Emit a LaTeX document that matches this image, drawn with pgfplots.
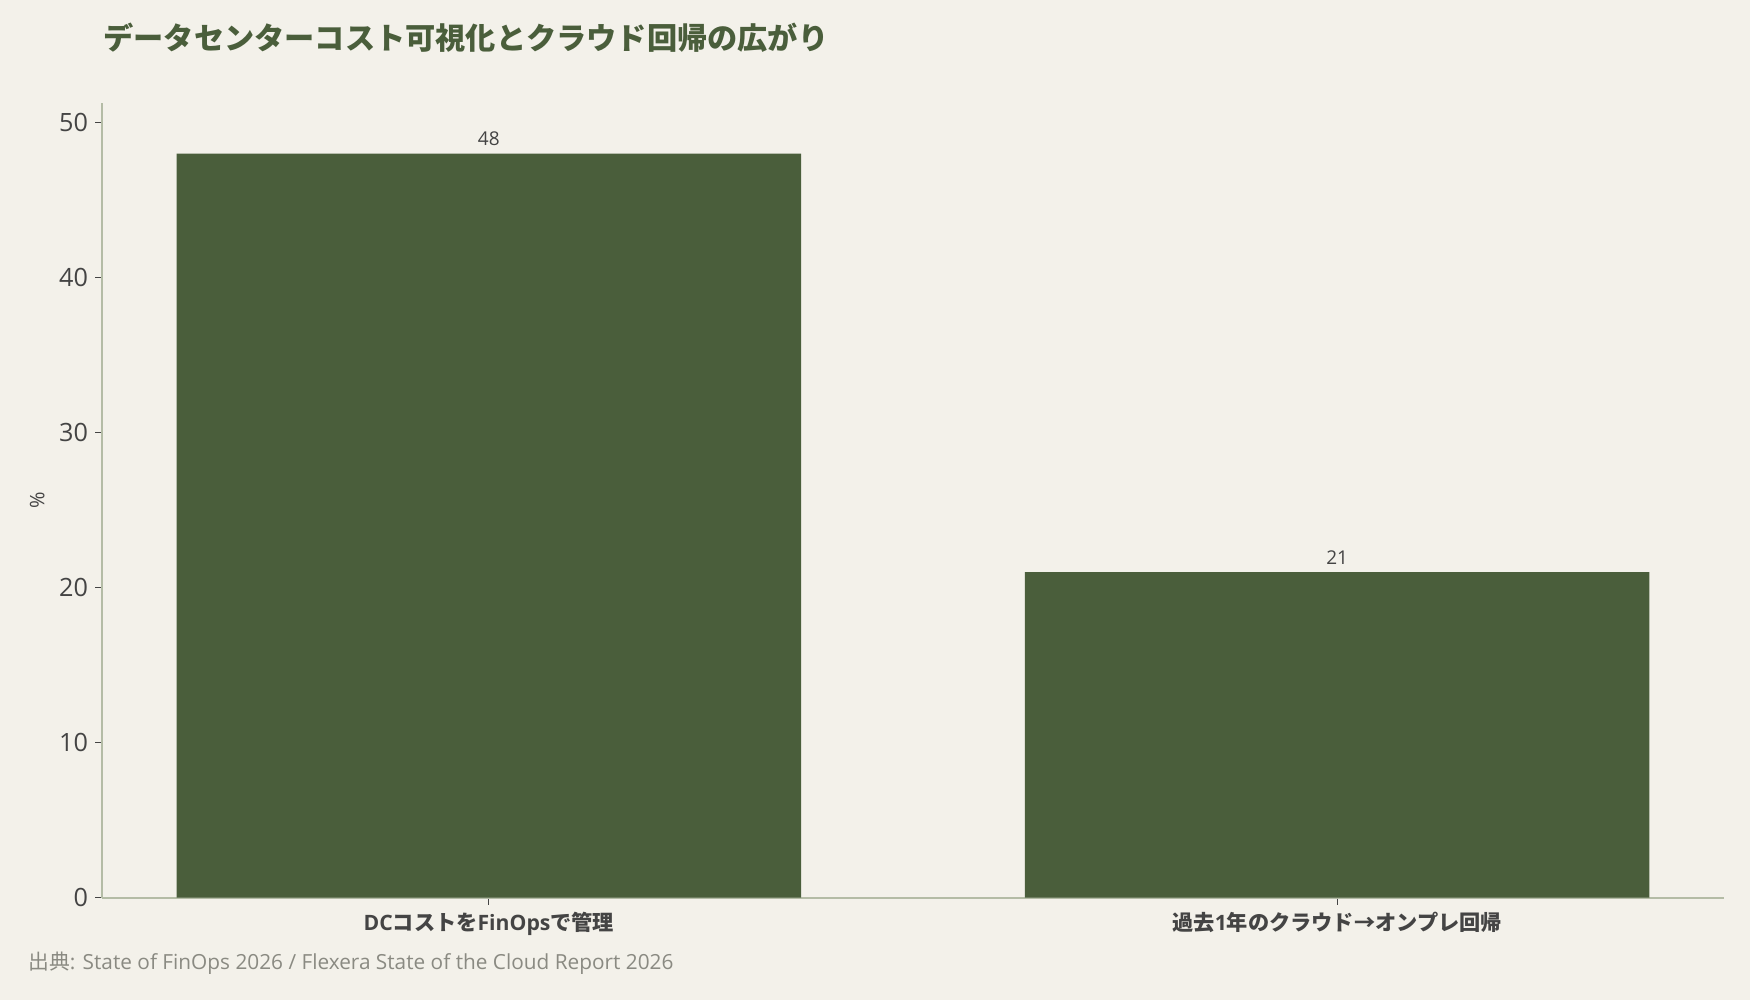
\documentclass[border=0pt]{standalone}
\usepackage{pgfplots}
\pgfplotsset{compat=1.18}
\usepackage{fontspec}
\setmainfont{Noto Sans CJK JP}
\newfontfamily\lat{Open Sans}
\definecolor{bg}{HTML}{F3F1EA}
\definecolor{barc}{HTML}{4A5E3B}
\definecolor{axc}{HTML}{B4BCA6}
\definecolor{txt}{HTML}{444444}
\definecolor{src}{HTML}{8A8A82}
\begin{document}
\begin{tikzpicture}
\fill[bg] (0,0) rectangle (875pt,500pt);
\useasboundingbox (0,0) rectangle (875pt,500pt);
\begin{axis}[
  at={(51pt,51.15pt)}, anchor=south west,
  scale only axis, width=811pt, height=397.4pt,
  xmin=-0.456, xmax=1.456, ymin=0, ymax=51.27,
  axis x line=bottom, axis y line=left,
  axis line style={-, draw=axc, line width=1pt},
  ytick={0,10,20,30,40,50},
  xtick={0,1},
  xticklabels={{\lat DC}コストを{\lat FinOps}で管理, 過去{\lat 1}年のクラウド→オンプレ回帰},
  tick style={draw=txt, line width=0.6pt},
  major tick length=3.5pt, tick align=outside,
  /pgf/number format/assume math mode=true,
  yticklabel style={font=\lat\fontsize{12.6}{14}\selectfont, text=txt},
  xticklabel style={font=\bfseries\fontsize{10.6}{13}\selectfont, text=txt},
  ylabel={\lat\%},
  ylabel style={at={(axis description cs:-0.04,0.5)}, anchor=center, font=\fontsize{10}{12}\selectfont, text=txt},
  ybar, bar width=0.736,
  nodes near coords,
  every node near coord/.append style={font=\lat\fontsize{9.5}{11}\selectfont, text=txt, inner sep=0pt, anchor=south, yshift=3.5pt},
]
\addplot[fill=barc, draw=none] coordinates {(0,48) (1,21)};
\end{axis}
\node[anchor=west, font=\bfseries\fontsize{15.1}{18}\selectfont, text=barc, inner sep=0pt] at (51.5pt,481pt) {データセンターコスト可視化とクラウド回帰の広がり};
\node[anchor=west, text=src, font=\fontsize{10.4}{12}\selectfont, inner sep=0pt] at (14pt,18.5pt) {出典{\lat : State of FinOps 2026 / Flexera State of the Cloud Report 2026}};
\end{tikzpicture}
\end{document}
